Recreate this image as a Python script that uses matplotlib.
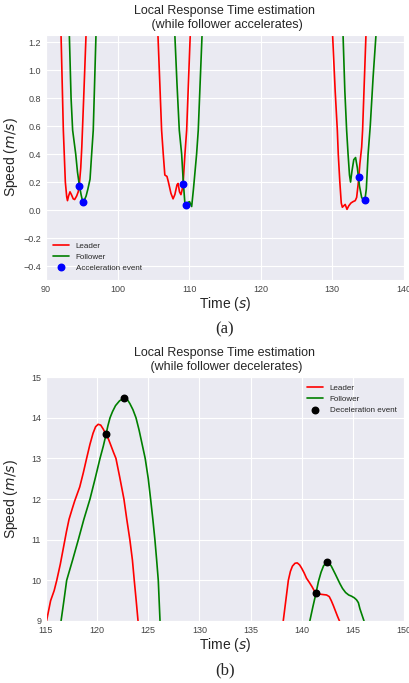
import numpy as np
import matplotlib.pyplot as plt
import seaborn as sns

sns.set_style("darkgrid")
plt.rcParams['font.family'] = ['Liberation Sans', 'DejaVu Sans']

# (a) speeds around the stops, follower accelerating
t_lead_a = [91.7, 92.1, 92.42, 92.7, 92.89, 93.0, 93.15, 93.35, 93.55, 93.8, 94.0, 94.28, 94.5, 94.65,
            94.85, 95.0, 95.3, 95.59, 96.0,
            100.0, 104.0,
            105.3, 105.64, 106.15, 106.38, 106.6, 106.9, 107.1, 107.45, 107.75, 108.0, 108.3, 108.45,
            108.65, 108.85, 109.0, 109.15, 109.41, 109.65, 110.15, 110.5,
            120.0, 128.0,
            129.7, 130.04, 130.4, 130.7, 130.83, 131.05, 131.25, 131.4, 131.6, 131.8, 132.05, 132.3,
            132.6, 132.9, 133.2, 133.4, 133.6, 133.7, 133.85, 134.1, 134.23, 134.7, 135.0]
v_lead_a = [2.1, 1.25, 0.57, 0.2, 0.095, 0.067, 0.1, 0.13, 0.11, 0.08, 0.075, 0.1, 0.13, 0.18,
            0.3, 0.45, 0.85, 1.25, 1.8,
            5.0, 5.0,
            1.9, 1.25, 0.57, 0.4, 0.25, 0.24, 0.2, 0.12, 0.08, 0.11, 0.18, 0.19,
            0.13, 0.11, 0.14, 0.185, 0.4, 0.57, 1.25, 1.7,
            5.0, 5.0,
            1.9, 1.25, 0.85, 0.57, 0.4, 0.2, 0.05, 0.02, 0.03, 0.04, 0.005, 0.03,
            0.05, 0.06, 0.067, 0.09, 0.18, 0.235, 0.33, 0.45, 0.57, 1.25, 1.6]

t_foll_a = [92.9, 93.26, 93.5, 93.72, 94.15, 94.4, 94.65, 94.9, 95.1, 95.35, 95.6, 95.85, 96.15,
            96.35, 96.6, 96.98, 97.3,
            102.0, 106.0,
            107.6, 108.0, 108.3, 108.62, 108.95, 109.18, 109.4, 109.6, 109.85, 110.05, 110.35, 110.6,
            111.04, 111.27, 111.8, 112.1,
            120.0, 130.0,
            131.2, 131.5, 131.75, 132.0, 132.2, 132.4, 132.55, 132.75, 133.0, 133.25, 133.5, 133.8,
            134.1, 134.35, 134.55, 134.75, 135.0, 135.3, 135.7, 136.1, 136.4]
v_foll_a = [1.9, 1.25, 0.8, 0.57, 0.4, 0.27, 0.18, 0.11, 0.065, 0.07, 0.1, 0.15, 0.22,
            0.38, 0.57, 1.25, 1.6,
            5.0, 5.0,
            1.7, 1.25, 0.9, 0.57, 0.4, 0.2, 0.05, 0.04, 0.055, 0.06, 0.025, 0.15,
            0.4, 0.57, 1.25, 1.6,
            5.0, 5.0,
            1.6, 1.25, 0.85, 0.57, 0.4, 0.25, 0.2, 0.28, 0.36, 0.375, 0.3, 0.17,
            0.09, 0.07, 0.07, 0.15, 0.4, 0.6, 0.95, 1.25, 1.5]

t_acc_ev = [94.65, 95.15, 109.15, 109.55, 133.7, 134.55]
v_acc_ev = [0.17, 0.06, 0.185, 0.035, 0.235, 0.07]

# (b) speeds around the peaks, follower decelerating
t_lead_b = [114.8, 115.05, 115.45, 115.8, 116.05, 116.4, 116.7, 117.0, 117.25, 117.55, 117.8, 118.3,
            118.65, 118.97, 119.3, 119.6, 119.85, 120.1, 120.35, 120.6, 120.87, 121.1, 121.3, 121.6,
            121.84, 122.2, 122.62, 122.9, 123.2, 123.45, 123.63, 123.82, 124.0, 124.2,
            131.0,
            138.0, 138.2, 138.45, 138.7, 138.9, 139.1, 139.35, 139.57, 139.8, 140.0, 140.25, 140.48,
            140.75, 141.0, 141.2, 141.4, 141.6, 141.8, 142.1, 142.44, 142.7, 142.9, 143.1, 143.3,
            143.5, 143.7, 143.9]
v_lead_b = [8.7, 9.0, 9.5, 9.75, 10.0, 10.4, 10.8, 11.2, 11.5, 11.75, 11.95, 12.3,
            12.65, 13.0, 13.35, 13.62, 13.78, 13.84, 13.82, 13.72, 13.59, 13.48, 13.35, 13.15,
            13.0, 12.55, 12.0, 11.5, 11.0, 10.5, 10.0, 9.5, 9.0, 8.5,
            5.0,
            8.6, 9.0, 9.5, 10.0, 10.22, 10.35, 10.42, 10.43, 10.38, 10.3, 10.18, 10.05,
            9.95, 9.85, 9.76, 9.68, 9.66, 9.66, 9.65, 9.64, 9.6, 9.5, 9.38, 9.25,
            9.12, 9.0, 8.8]

t_foll_b = [116.3, 116.47, 116.75, 117.02, 117.6, 118.16, 118.7, 119.3, 119.8, 120.28, 120.6,
            120.87, 121.05, 121.26, 121.5, 121.8, 122.2, 122.66, 122.95, 123.2, 123.5, 123.8, 124.1,
            124.4, 124.7, 125.0, 125.23, 125.45, 125.65, 125.82, 125.98, 126.15, 126.3,
            133.0,
            140.6, 140.8, 141.1, 141.4, 141.65, 141.9, 142.15, 142.45, 142.7, 142.9, 143.3, 143.74,
            144.0, 144.3, 144.6, 144.88, 145.15, 145.37, 145.55, 145.7, 145.9, 146.1, 146.3]
v_foll_b = [8.7, 9.0, 9.5, 10.0, 10.5, 11.0, 11.5, 12.0, 12.5, 13.0, 13.3,
            13.59, 13.8, 14.0, 14.15, 14.3, 14.42, 14.48, 14.45, 14.35, 14.2, 14.0, 13.7,
            13.35, 13.0, 12.5, 12.0, 11.5, 11.0, 10.5, 10.0, 9.0, 8.5,
            5.0,
            8.6, 9.0, 9.35, 9.68, 9.98, 10.2, 10.36, 10.44, 10.42, 10.35, 10.15, 9.92,
            9.8, 9.7, 9.64, 9.61, 9.57, 9.52, 9.45, 9.3, 9.15, 9.0, 8.7]

t_dec_ev = [120.87, 122.66, 141.4, 142.45]
v_dec_ev = [13.59, 14.48, 9.68, 10.44]

fig = plt.figure(figsize=(4.09, 6.83), dpi=100)
ax1 = fig.add_axes([0.1125, 0.590, 0.875, 0.3587])
ax2 = fig.add_axes([0.1125, 0.0908, 0.875, 0.357])

ax1.plot(t_lead_a, v_lead_a, color='red', lw=1.2, label='Leader')
ax1.plot(t_foll_a, v_foll_a, color='green', lw=1.2, label='Follower')
ax1.scatter(t_acc_ev, v_acc_ev, color='blue', s=22, zorder=3, label='Acceleration event')
ax1.set_xlim(90, 140)
ax1.set_ylim(-0.5, 1.25)
ax1.set_xticks(np.arange(90, 141, 10))
ax1.set_yticks(np.arange(-0.4, 1.21, 0.2))
ax1.set_title('Local Response Time estimation\n (while follower accelerates)', fontsize=9, color='#262626', pad=5)
ax1.legend(loc='lower left', fontsize=5.8, frameon=False, labelspacing=0.4,
           bbox_to_anchor=(0.0, 0.005))

ax2.plot(t_lead_b, v_lead_b, color='red', lw=1.2, label='Leader')
ax2.plot(t_foll_b, v_foll_b, color='green', lw=1.2, label='Follower')
ax2.scatter(t_dec_ev, v_dec_ev, color='black', s=22, zorder=3, label='Deceleration event')
ax2.set_xlim(115, 150)
ax2.set_ylim(9, 15)
ax2.set_xticks(np.arange(115, 151, 5))
ax2.set_yticks(np.arange(9, 16, 1))
ax2.set_title('Local Response Time estimation\n (while follower decelerates)', fontsize=9, color='#262626', pad=5)
ax2.legend(loc='upper right', fontsize=5.8, frameon=False, labelspacing=0.4)

for ax in (ax1, ax2):
    ax.tick_params(labelsize=6.5, colors='#444444', pad=0)
    ax.set_xlabel('Time ($s$)', fontsize=10, labelpad=1)
    ax.set_ylabel('Speed ($m/s$)', fontsize=10)
    ax.yaxis.set_label_coords(-0.072, 0.5)

fig.text(0.55, 0.517, '(a)', family='Liberation Serif', fontsize=12, ha='center', va='center')
fig.text(0.55, 0.019, '(b)', family='Liberation Serif', fontsize=12, ha='center', va='center')

fig.savefig('out.png', dpi=100)
